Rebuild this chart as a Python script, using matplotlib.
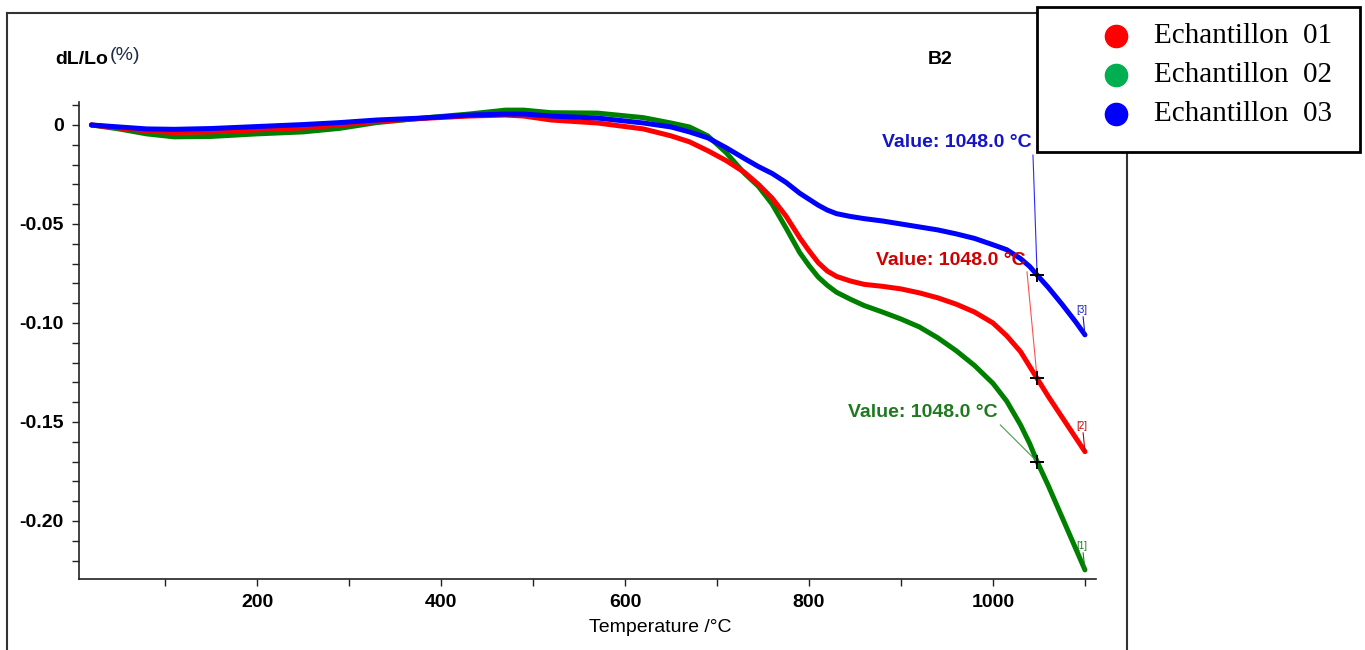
import matplotlib
matplotlib.use("Agg")
import matplotlib.pyplot as plt
import numpy as np
from matplotlib.lines import Line2D
from matplotlib.patches import Rectangle

# ---------------- data ----------------
temps = [20, 50, 80, 110, 150, 200, 250, 290, 330, 380, 430, 470, 490, 520, 570,
         620, 650, 670, 690, 710, 730, 745, 760, 775, 790, 800, 810, 820, 830, 845,
         860, 880, 900, 920, 940, 960, 980, 1000, 1015, 1030, 1040, 1048, 1060, 1075,
         1090, 1100]

ech01 = [0.0, -0.0015, -0.003, -0.0038, -0.0035, -0.0025, -0.0015, 0.0, 0.0018, 0.0033,
         0.0045, 0.005, 0.0045, 0.0025, 0.001,
         -0.002, -0.0055, -0.0085, -0.013, -0.018, -0.024, -0.030, -0.037, -0.046, -0.057,
         -0.0635, -0.0695, -0.0738, -0.0765, -0.0788,
         -0.0805, -0.0815, -0.0828, -0.0848, -0.0873, -0.0905, -0.0945, -0.100, -0.1065,
         -0.1145, -0.122, -0.128, -0.137, -0.1475,
         -0.158, -0.165]

ech02 = [0.0, -0.002, -0.0045, -0.006, -0.0058, -0.0045, -0.0035, -0.0017, 0.0012, 0.0035,
         0.0055, 0.0075, 0.0075, 0.0062, 0.006,
         0.0037, 0.001, -0.001, -0.0055, -0.014, -0.0245, -0.031, -0.040, -0.052, -0.0645,
         -0.071, -0.0768, -0.081, -0.0845, -0.088,
         -0.0912, -0.0945, -0.098, -0.102, -0.1075, -0.114, -0.1215, -0.1305, -0.1395,
         -0.1515, -0.161, -0.170, -0.182, -0.198,
         -0.214, -0.2247]

ech03 = [0.0, -0.001, -0.002, -0.0022, -0.0018, -0.0008, 0.0002, 0.0012, 0.0025, 0.0035,
         0.005, 0.0055, 0.0055, 0.0045, 0.0035,
         0.001, -0.001, -0.0035, -0.0065, -0.0115, -0.017, -0.021, -0.0245, -0.029, -0.0345,
         -0.0375, -0.0405, -0.043, -0.0448, -0.0462,
         -0.0473, -0.0485, -0.050, -0.0515, -0.053, -0.055, -0.0573, -0.0605, -0.063,
         -0.0675, -0.0715, -0.0758, -0.082, -0.0905,
         -0.0995, -0.106]

series_names = ["Echantillon  01", "Echantillon  02", "Echantillon  03"]
marker_temp = 1048.0
x_ticks = [200, 400, 600, 800, 1000]
y_ticks = [0.0, -0.05, -0.10, -0.15, -0.20]
y_tick_labels = ["0", "-0.05", "-0.10", "-0.15", "-0.20"]
end_tags = ["[2]", "[1]", "[3]"]

# ---------------- figure ----------------
W, H = 1365, 650
fig = plt.figure(figsize=(W / 100, H / 100), dpi=100)
plt.rcParams['font.family'] = ['Liberation Sans', 'DejaVu Sans']

def fx(px):
    return px / W

def fy(py):
    return 1 - py / H

ax_left, ax_right, ax_top, ax_bot = 79, 1096, 102, 579
ax = fig.add_axes([fx(ax_left), fy(ax_bot), (ax_right - ax_left) / W, (ax_bot - ax_top) / H])
ax.set_xlim(6.5, 1112)
ax.set_ylim(-0.2293, 0.0116)

line_red = '#ff0000'
line_green = '#008000'
line_blue = '#0000ff'

lw = 3.6
kw = dict(lw=lw, solid_capstyle='round', solid_joinstyle='round')
ax.plot(temps, ech02, color=line_green, zorder=3, **kw)
ax.plot(temps, ech01, color=line_red, zorder=4, **kw)
ax.plot(temps, ech03, color=line_blue, zorder=5, **kw)

for s in ['top', 'right']:
    ax.spines[s].set_visible(False)
for s in ['left', 'bottom']:
    ax.spines[s].set_linewidth(1.2)
    ax.spines[s].set_color('#222222')

ax.set_xticks(x_ticks)
ax.set_xticks([100, 300, 500, 700, 900, 1100], minor=True)
ax.set_yticks(y_ticks)
ax.set_yticklabels(y_tick_labels)
ax.set_yticks(np.arange(-0.22, 0.0101, 0.01), minor=True)
ax.tick_params(axis='both', which='both', direction='out', length=5, width=1, color='#222222')
ax.tick_params(axis='both', which='major', labelsize=14)
ax.tick_params(axis='x', pad=6)
ax.tick_params(axis='y', pad=6)
for lab in ax.get_xticklabels() + ax.get_yticklabels():
    lab.set_fontweight('bold')

# ---------------- annotations ----------------
ann = [
    (ech03, '#1515c8', '#2a2aff', (1042, -0.0091), (1043.5, -0.0152)),
    (ech01, '#d00000', '#ff5050', (1035, -0.0682), (1037, -0.0742)),
    (ech02, '#1f7a1f', '#4a9a4a', (1005, -0.1450), (1008, -0.1515)),
]
for ser, tcol, lcol, tpos, lstart in ann:
    yv = np.interp(marker_temp, temps, ser)
    ax.text(tpos[0], tpos[1], f"Value: {marker_temp:.1f} °C", color=tcol, fontsize=14,
            fontweight='bold', ha='right', va='center', zorder=6)
    ax.plot([lstart[0], marker_temp], [lstart[1], yv], color=lcol, lw=0.8, zorder=6)
    ax.plot([marker_temp], [yv], marker='+', ms=10, mew=1.4, color='black', zorder=7)

tag_info = [
    (ech01, '#c00000', -0.1520),
    (ech02, '#1f7a1f', -0.2126),
    (ech03, '#1515c8', -0.0934),
]
for (ser, col, ty), tag in zip(tag_info, end_tags):
    ax.text(1097, ty, tag, color=col, fontsize=7, ha='center', va='center', zorder=6)
    ax.plot([1098, temps[-1]], [ty - 0.0035, ser[-1]], color=col, lw=0.8, zorder=6)

fig.text(fx(55), fy(60), "dL/Lo", fontsize=14, fontweight='bold', ha='left', va='center')
fig.text(fx(110), fy(56), "(%)", fontsize=14, color='#1f2a44', ha='left', va='center')
fig.text(fx(940), fy(60), "B2", fontsize=14, fontweight='bold', ha='center', va='center')
fig.text(fx(660), fy(628), "Temperature /°C", fontsize=14, ha='center', va='center')

# ---------------- outer frame ----------------
fc = '#333333'
fig.add_artist(Line2D([fx(7), fx(1037)], [fy(13), fy(13)], color=fc, lw=1.5))
fig.add_artist(Line2D([fx(7), fx(7)], [fy(13), fy(650)], color=fc, lw=1.5))
fig.add_artist(Line2D([fx(1127), fx(1127)], [fy(152), fy(650)], color=fc, lw=1.5))

# ---------------- legend box ----------------
fig.add_artist(Rectangle((fx(1037), fy(152)), (1360 - 1037) / W, (152 - 7) / H,
                         fill=True, facecolor='white', edgecolor='black', lw=2,
                         transform=fig.transFigure, zorder=10))
leg_colors = ['#ff0000', '#00b050', '#0000ff']
rows = [36, 75, 114]
for name, col, ry in zip(series_names, leg_colors, rows):
    fig.add_artist(Line2D([fx(1116)], [fy(ry)], marker='o', ms=16, color=col,
                          mec=col, lw=0, zorder=11))
    fig.text(fx(1154), fy(ry), name, fontsize=21, family=['Liberation Serif', 'DejaVu Serif'],
             ha='left', va='center', zorder=11)

fig.savefig("out.png", dpi=100)
